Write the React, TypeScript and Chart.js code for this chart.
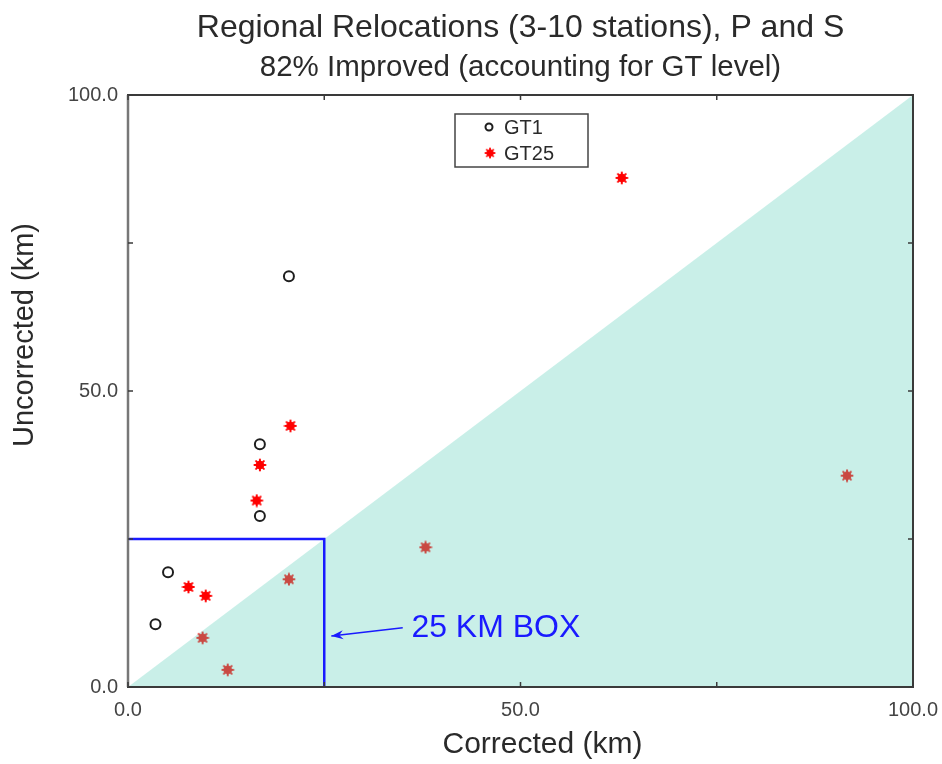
import React, { useEffect, useRef } from 'react';
import { Chart, registerables } from 'chart.js';
Chart.register(...registerables);

// ---- data ----
const gt1X = [20.5, 16.8, 16.8, 5.1, 3.5];
const gt1Y = [69.4, 41.0, 28.9, 19.4, 10.6];
const gt25X = [62.9, 20.7, 16.8, 16.4, 7.7, 9.9, 20.5, 9.5, 12.7, 37.9, 91.6];
const gt25Y = [86.0, 44.1, 37.5, 31.5, 16.9, 15.4, 18.2, 8.3, 2.9, 23.6, 35.7];
const diagX = [0, 100];
const diagY = [0, 100];
const boxX = [0, 25, 25];
const boxY = [25, 25, 0];
const arrowTail = [35.0, 10.0];
const arrowTip = [25.9, 8.6];
const boxLabelAt = [36.1, 8.5];
const tickValues = [0, 25, 50, 75, 100];
const labeledTicks = [0, 50, 100];
const titleText = 'Regional Relocations (3-10 stations), P and S';
const subtitleText = '82% Improved (accounting for GT level)';
const xTitle = 'Corrected (km)';
const yTitle = 'Uncorrected (km)';
const boxLabel = '25 KM BOX';
const seriesNames = ['GT1', 'GT25'];

const FONT = '"Liberation Sans", Arial, Helvetica, sans-serif';
const TEXT = '#2a2a2a';
const BLUE = '#1a1aff';

function makeStar(): HTMLCanvasElement {
  const c = document.createElement('canvas');
  c.width = 14;
  c.height = 14;
  const g = c.getContext('2d')!;
  g.strokeStyle = '#ff0000';
  g.fillStyle = '#ff0000';
  g.lineWidth = 2;
  g.lineCap = 'round';
  const cx = 7, cy = 7, r = 5.5;
  for (let i = 0; i < 4; i++) {
    const a = (i * Math.PI) / 4;
    g.beginPath();
    g.moveTo(cx - r * Math.cos(a), cy - r * Math.sin(a));
    g.lineTo(cx + r * Math.cos(a), cy + r * Math.sin(a));
    g.stroke();
  }
  g.beginPath();
  g.arc(cx, cy, 4.3, 0, Math.PI * 2);
  g.fill();
  return c;
}

const decorPlugin = {
  id: 'decor',
  afterDraw(chart: any) {
    const { ctx, chartArea: a, scales } = chart;
    const xs = scales.x, ys = scales.y;
    ctx.save();
    // frame
    ctx.strokeStyle = '#3a3a3a';
    ctx.lineWidth = 2;
    ctx.strokeRect(a.left, a.top, a.right - a.left, a.bottom - a.top);
    ctx.strokeStyle = '#777';
    ctx.lineWidth = 2.5;
    ctx.beginPath();
    ctx.moveTo(a.left, a.top);
    ctx.lineTo(a.left, a.bottom);
    ctx.stroke();
    // inward ticks
    ctx.strokeStyle = '#3a3a3a';
    ctx.lineWidth = 1.5;
    ctx.beginPath();
    tickValues.forEach((v) => {
      const px = xs.getPixelForValue(v);
      const py = ys.getPixelForValue(v);
      ctx.moveTo(px, a.bottom); ctx.lineTo(px, a.bottom - 5);
      ctx.moveTo(px, a.top); ctx.lineTo(px, a.top + 5);
      ctx.moveTo(a.left, py); ctx.lineTo(a.left + 5, py);
      ctx.moveTo(a.right, py); ctx.lineTo(a.right - 5, py);
    });
    ctx.stroke();

    // arrow
    const tx = xs.getPixelForValue(arrowTail[0]), ty = ys.getPixelForValue(arrowTail[1]);
    const hx = xs.getPixelForValue(arrowTip[0]), hy = ys.getPixelForValue(arrowTip[1]);
    ctx.strokeStyle = BLUE;
    ctx.fillStyle = BLUE;
    ctx.lineWidth = 1.5;
    ctx.beginPath();
    ctx.moveTo(tx, ty);
    ctx.lineTo(hx, hy);
    ctx.stroke();
    const ang = Math.atan2(hy - ty, hx - tx);
    ctx.beginPath();
    ctx.moveTo(hx, hy);
    ctx.lineTo(hx - 12 * Math.cos(ang) + 4.5 * Math.sin(ang), hy - 12 * Math.sin(ang) - 4.5 * Math.cos(ang));
    ctx.lineTo(hx - 8 * Math.cos(ang), hy - 8 * Math.sin(ang));
    ctx.lineTo(hx - 12 * Math.cos(ang) - 4.5 * Math.sin(ang), hy - 12 * Math.sin(ang) + 4.5 * Math.cos(ang));
    ctx.closePath();
    ctx.fill();
    ctx.font = `32px ${FONT}`;
    ctx.textAlign = 'left';
    ctx.textBaseline = 'alphabetic';
    ctx.fillText(boxLabel, xs.getPixelForValue(boxLabelAt[0]), ys.getPixelForValue(boxLabelAt[1]));

    // titles
    const cx = (a.left + a.right) / 2;
    ctx.fillStyle = TEXT;
    ctx.textAlign = 'center';
    ctx.font = `32px ${FONT}`;
    ctx.fillText(titleText, cx, 37);
    ctx.font = `29.5px ${FONT}`;
    ctx.fillText(subtitleText, cx, 76);
    ctx.font = `30px ${FONT}`;
    ctx.textBaseline = 'middle';
    ctx.fillText(xTitle, cx + 22, 745);
    ctx.save();
    ctx.translate(25, (a.top + a.bottom) / 2 - 56);
    ctx.rotate(-Math.PI / 2);
    ctx.font = `29px ${FONT}`;
    ctx.fillText(yTitle, 0, 0);
    ctx.restore();

    // legend
    const lx = 455, ly = 114, lw = 133, lh = 53;
    ctx.fillStyle = '#ffffff';
    ctx.fillRect(lx, ly, lw, lh);
    ctx.strokeStyle = '#444';
    ctx.lineWidth = 1.5;
    ctx.strokeRect(lx, ly, lw, lh);
    const ds = chart.data.datasets;
    const rows = [ly + 13, ly + 39];
    ctx.strokeStyle = ds[1].borderColor;
    ctx.lineWidth = 2;
    ctx.beginPath();
    ctx.arc(lx + 34, rows[0], 3.5, 0, Math.PI * 2);
    ctx.stroke();
    const star = ds[2].pointStyle as HTMLCanvasElement;
    ctx.drawImage(star, lx + 35 - 6, rows[1] - 6, 12, 12);
    ctx.fillStyle = TEXT;
    ctx.textAlign = 'left';
    ctx.textBaseline = 'middle';
    ctx.font = `20px ${FONT}`;
    ctx.fillText(seriesNames[0], lx + 49, rows[0] + 1);
    ctx.fillText(seriesNames[1], lx + 49, rows[1] + 1);
    ctx.restore();
  },
};

export default function App() {
  const ref = useRef<HTMLCanvasElement>(null);
  useEffect(() => {
    document.body.style.margin = '0';
    const star = makeStar();
    const chart = new Chart(ref.current!, {
      type: 'scatter',
      data: {
        datasets: [
          {
            label: 'region',
            type: 'line',
            data: diagX.map((x, i) => ({ x, y: diagY[i] })),
            borderWidth: 0,
            borderColor: 'rgba(0,0,0,0)',
            backgroundColor: 'rgba(100,210,190,0.35)',
            fill: 'start',
            pointRadius: 0,
            order: 0,
          } as any,
          {
            label: seriesNames[0],
            data: gt1X.map((x, i) => ({ x, y: gt1Y[i] })),
            pointStyle: 'circle',
            pointRadius: 5,
            borderWidth: 2,
            borderColor: '#1e1e1e',
            backgroundColor: 'rgba(0,0,0,0)',
            order: 2,
          },
          {
            label: seriesNames[1],
            data: gt25X.map((x, i) => ({ x, y: gt25Y[i] })),
            pointStyle: star,
            pointRadius: 6,
            borderColor: '#ff0000',
            backgroundColor: '#ff0000',
            order: 1,
          },
          {
            label: 'box',
            type: 'line',
            data: boxX.map((x, i) => ({ x, y: boxY[i] })),
            borderColor: BLUE,
            borderWidth: 2.5,
            pointRadius: 0,
            fill: false,
            order: -1,
          } as any,
        ],
      },
      options: {
        animation: false,
        responsive: false,
        events: [],
        layout: { padding: { left: 0, top: 95, right: 29, bottom: 0 } },
        plugins: { legend: { display: false }, tooltip: { enabled: false }, title: { display: false } },
        scales: {
          x: {
            type: 'linear',
            min: 0,
            max: 100,
            afterFit: (s: any) => { s.height = 77; s.paddingLeft = 0; s.paddingRight = 0; },
            afterBuildTicks: (s: any) => { s.ticks = tickValues.map((v) => ({ value: v })); },
            grid: { display: false, drawTicks: false, tickLength: 0 },
            border: { display: false },
            ticks: {
              padding: 11,
              color: '#444',
              font: { family: FONT, size: 20 },
              maxRotation: 0,
              callback: (v: any) => (labeledTicks.includes(Number(v)) ? Number(v).toFixed(1) : ''),
            },
          },
          y: {
            type: 'linear',
            min: 0,
            max: 100,
            afterFit: (s: any) => { s.width = 128; s.paddingTop = 0; s.paddingBottom = 0; },
            afterBuildTicks: (s: any) => { s.ticks = tickValues.map((v) => ({ value: v })); },
            grid: { display: false, drawTicks: false, tickLength: 0 },
            border: { display: false },
            ticks: {
              padding: 10,
              color: '#444',
              font: { family: FONT, size: 20 },
              callback: (v: any) => (labeledTicks.includes(Number(v)) ? Number(v).toFixed(1) : ''),
            },
          },
        },
      },
      plugins: [decorPlugin],
    });
    return () => chart.destroy();
  }, []);
  return (
    <div style={{ width: 942, height: 764, background: '#fff' }}>
      <canvas ref={ref} width={942} height={764} />
    </div>
  );
}
